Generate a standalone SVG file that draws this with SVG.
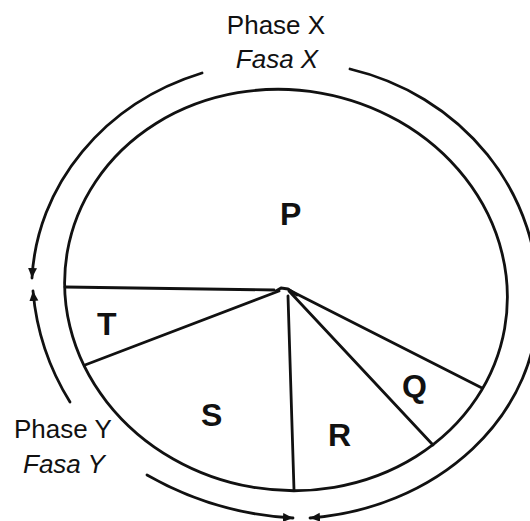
<svg xmlns="http://www.w3.org/2000/svg" width="530" height="521" viewBox="0 0 530 521">
  <defs>
    <style>
      .ln { fill: none; stroke: #111; stroke-width: 2.8; stroke-linecap: round; stroke-linejoin: round; }
      .lab { font-family: "Liberation Sans", Arial, sans-serif; font-size: 26px; fill: #111; }
      .it { font-style: italic; }
      .seg { font-family: "Liberation Sans", Arial, sans-serif; font-size: 32px; font-weight: bold; fill: #111; }
    </style>
    <marker id="ah" markerUnits="userSpaceOnUse" markerWidth="13" markerHeight="10" refX="10" refY="4.5" orient="auto">
      <path d="M0,0 L10,4.5 L0,9 z" fill="#111"/>
    </marker>
  </defs>
  <rect width="530" height="521" fill="#fff"/>

  <g id="circle">
    <ellipse class="ln" cx="286" cy="290" rx="222" ry="200" transform="rotate(10 286 290)"/>
  </g>

  <g id="connectors">
    <path class="ln" d="M202,73 A250,228 0 0 0 32,278" marker-end="url(#ah)"/>
    <path class="ln" d="M70,402 A250,250 0 0 1 33,291" marker-end="url(#ah)"/>
    <path class="ln" d="M147,475 A330,330 0 0 0 293,518" marker-end="url(#ah)"/>
    <path class="ln" d="M350,69 A248,235 0 0 1 538,303 A250,215 0 0 1 310,518" marker-end="url(#ah)"/>
  </g>

  <g id="spokes">
    <line class="ln" x1="65" y1="287" x2="274" y2="290"/>
    <line class="ln" x1="85" y1="365" x2="279" y2="291"/>
    <polyline class="ln" points="276,291 281,288 288,289 297,295"/>
    <line class="ln" x1="289" y1="290" x2="482" y2="388"/>
    <line class="ln" x1="289" y1="291" x2="433" y2="445"/>
    <line class="ln" x1="288" y1="296" x2="294" y2="490"/>
  </g>

  <g id="phase-x">
    <text class="lab" x="276" y="34" text-anchor="middle">Phase X</text>
    <text class="lab it" x="277" y="68" text-anchor="middle">Fasa X</text>
  </g>
  <g id="phase-y">
    <text class="lab" x="14" y="438">Phase Y</text>
    <text class="lab it" x="23" y="473">Fasa Y</text>
  </g>

  <g id="P"><text class="seg" x="280" y="225">P</text></g>
  <g id="T"><text class="seg" x="97" y="335">T</text></g>
  <g id="S"><text class="seg" x="201" y="426">S</text></g>
  <g id="R"><text class="seg" x="328" y="446">R</text></g>
  <g id="Q"><text class="seg" x="402" y="397">Q</text></g>
</svg>
